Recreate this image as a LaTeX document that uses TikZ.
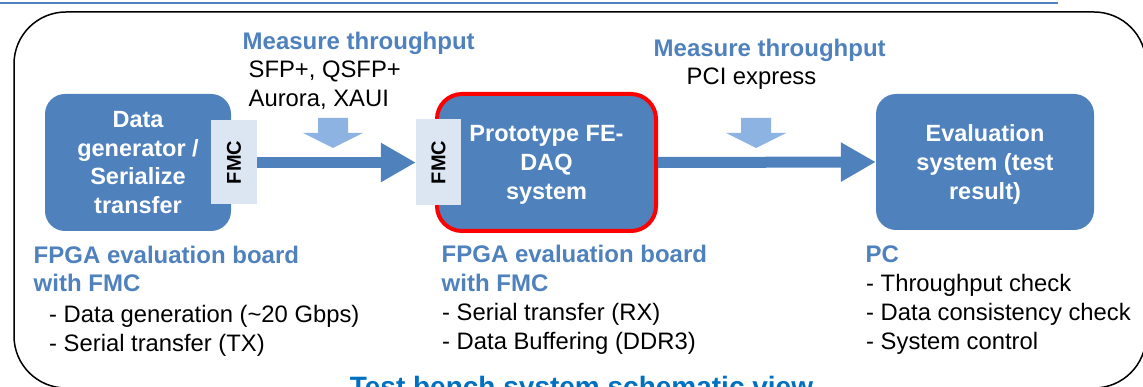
\documentclass[tikz,border=0pt]{standalone}
\usepackage{fontspec}
\setmainfont{Liberation Sans}
\usetikzlibrary{arrows.meta}
\definecolor{boxblue}{HTML}{4F81BD}
\definecolor{lightarrow}{HTML}{8DB3E2}
\definecolor{tabfill}{HTML}{DCE6F2}
\definecolor{capblue}{HTML}{0070C0}
\definecolor{fered}{HTML}{FF0000}
\begin{document}
\begin{tikzpicture}[x=1pt,y=-1pt,
  boxstyle/.style={fill=boxblue, draw=none, rounded corners=20pt, text=white,
    font=\fontsize{23.5}{28.6}\selectfont\bfseries, align=center, inner sep=0pt, text depth=0pt},
  tabstyle/.style={fill=tabfill, draw=none, inner sep=0pt},
  tabtext/.style={rotate=90, inner sep=0pt, font=\fontsize{20}{24}\selectfont\bfseries},
  bigarrow/.style={draw=boxblue, line width=11pt, -{Triangle[length=35pt 0 0, width=37pt 0 0]}},
  lbl/.style={anchor=base west, inner sep=0pt, font=\fontsize{23.8}{28.6}\selectfont},
  head/.style={anchor=base west, inner sep=0pt, font=\fontsize{24}{28.6}\selectfont\bfseries, text=boxblue},
  downarrow/.style={fill=lightarrow, draw=none}
]
\useasboundingbox (0,0) rectangle (1143,387);
\clip (0,0) rectangle (1143,387);

% frame
\coordinate (tl) at (0,3);
\coordinate (tr) at (1058,3);
\draw[boxblue, line width=2pt] (tl) -- (tr);
\draw[black, line width=1.5pt, rounded corners=52pt] (14,12) rectangle (1146,388);

% boxes
\node[boxstyle, minimum width=186pt, minimum height=137pt] (gen) at (138,162.5)
  {Data\\generator /\\Serialize\\transfer};
\node[boxstyle, draw=fered, line width=4pt, rounded corners=25pt, minimum width=219pt, minimum height=137pt]
  (proto) at (546.5,162.5) {Prototype FE-\\DAQ\\system};
\node[boxstyle, minimum width=218pt, minimum height=136pt] (eval) at (985,162)
  {Evaluation\\system (test\\result)};

% FMC tabs
\node[tabstyle, minimum width=46pt, minimum height=84pt] (fmcA) at (234,162.5) {};
\node[tabstyle, minimum width=45pt, minimum height=86pt] (fmcB) at (438.5,162.5) {};
\node[tabtext] (fmcAt) at (fmcA.center) {FMC};
\node[tabtext] (fmcBt) at (fmcB.center) {FMC};

% connectors
\draw[bigarrow] (fmcA.east) -- (fmcB.west);
\draw[bigarrow] (proto.east) -- (eval.west);

% small down arrows
\fill[downarrow] (318,118) -- (348,118) -- (348,133) -- (363,133) -- (333,148) -- (303,133) -- (318,133) -- cycle;
\fill[downarrow] (741,118) -- (771,118) -- (771,133) -- (786,133) -- (756,148) -- (726,133) -- (741,133) -- cycle;

% top labels
\node[head] (mt1) at (242.5,50) {Measure throughput};
\node[lbl] (sfp) at (248.5,77.5) {SFP+, QSFP+};
\node[lbl] (aur) at (248.5,106.5) {Aurora, XAUI};
\node[head] (mt2) at (653.5,57) {Measure throughput};
\node[lbl] (pci) at (686.5,84.5) {PCI express};

% bottom labels left
\node[head] (l1) at (33.5,263.5) {FPGA evaluation board};
\node[head] (l2) at (33.5,291.5) {with FMC};
\node[lbl] (l3) at (49,322.5) {- Data generation (\textasciitilde 20 Gbps)};
\node[lbl] (l4) at (49,351.5) {- Serial transfer (TX)};

% bottom labels middle
\node[head] (m1) at (441.5,263) {FPGA evaluation board};
\node[head] (m2) at (441.5,291) {with FMC};
\node[lbl] (m3) at (442,320.5) {- Serial transfer (RX)};
\node[lbl] (m4) at (442,349.5) {- Data Buffering (DDR3)};

% bottom labels right
\node[head] (r1) at (865.5,263) {PC};
\node[lbl] (r2) at (866,291.5) {- Throughput check};
\node[lbl] (r3) at (866,320) {- Data consistency check};
\node[lbl] (r4) at (866,349) {- System control};

% caption (cut off at the bottom, as in the reference)
\node[anchor=base, inner sep=0pt, font=\fontsize{28}{30}\selectfont\bfseries, text=capblue] (cap) at (581.5,396)
  {Test bench system schematic view};
\end{tikzpicture}
\end{document}
